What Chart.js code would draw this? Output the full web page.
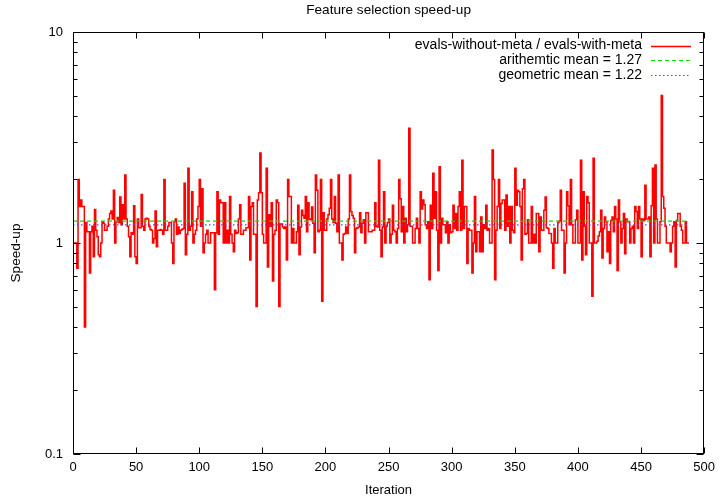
<!DOCTYPE html>
<html>
<head>
<meta charset="utf-8">
<script src="https://cdn.jsdelivr.net/npm/chart.js@4.4.0/dist/chart.umd.min.js"></script>
<style>
html,body{margin:0;padding:0;background:#fff;}
#wrap{width:721px;height:498px;}
</style>
</head>
<body>
<div id="wrap"><canvas id="c" width="721" height="498"></canvas></div>
<script>
const chartTitle = 'Feature selection speed-up';
const xAxisTitle = 'Iteration';
const yAxisTitle = 'Speed-up';
const seriesLabel = 'evals-without-meta / evals-with-meta';
const arithmeticMean = 1.27;
const geometricMean = 1.22;
const arithmeticLabel = 'arithemtic mean = 1.27';
const geometricLabel = 'geometric mean = 1.22';
const xTickValues = [0, 50, 100, 150, 200, 250, 300, 350, 400, 450, 500];
const yMajorTicks = [0.1, 1, 10];
const yMinorTicks = [0.2, 0.3, 0.4, 0.5, 0.6, 0.7, 0.8, 0.9, 2, 3, 4, 5, 6, 7, 8, 9];
const firstIteration = 0;
const speedup = [
1.0,1.0,1.0,1.0,0.76,2.0,1.49,1.6,1.49,1.49,
0.40,1.25,1.13,1.13,0.72,1.13,1.2,0.86,1.44,1.15,
1.07,0.88,0.86,1.0,1.26,1.24,1.15,1.15,1.2,1.3,
1.38,1.42,1.30,1.78,1.0,1.26,1.32,1.25,1.65,1.22,
1.52,1.30,2.10,1.3,1.2,1.07,0.86,1.12,1.10,1.50,
0.86,0.80,1.30,1.18,1.18,1.7,1.2,1.15,1.3,1.31,
1.30,1.20,1.16,1.15,1.0,1.05,1.42,0.96,1.15,1.15,
1.16,1.15,1.1,2.0,1.15,1.15,1.2,1.25,1.25,1.0,
0.80,1.26,1.3,1.1,1.19,1.11,1.15,1.16,1.17,1.92,
0.88,1.1,2.26,1.15,1.2,1.75,1.0,1.1,1.15,1.3,
1.49,2.0,1.2,1.81,0.9,1.0,1.1,1.15,1.0,1.0,
1.12,1.12,1.12,0.60,1.12,1.75,1.1,1.6,1.55,1.55,
1.0,1.55,1.0,1.15,1.0,1.66,1.1,1.0,0.91,1.15,
1.11,1.12,1.3,1.52,1.1,1.1,1.15,1.15,1.18,1.18,
1.66,0.83,1.49,1.55,1.1,1.1,0.50,1.6,1.73,2.67,
1.73,1.1,1.0,1.0,2.26,0.77,1.36,1.2,1.55,0.66,
1.1,1.15,1.6,1.55,0.50,1.23,1.23,1.19,1.17,1.19,
0.83,2.0,1.66,1.66,1.0,1.17,1.0,1.0,1.13,1.51,
0.88,1.19,1.43,1.35,1.31,1.66,1.13,1.55,1.3,1.29,
1.48,1.24,0.9,2.1,1.78,1.13,1.15,2.0,0.53,1.39,
1.15,1.15,1.3,1.36,1.46,2.0,1.3,1.25,1.66,1.24,
1.13,2.1,1.0,1.0,0.83,1.1,1.11,1.19,1.11,1.3,
2.1,1.41,1.35,1.31,0.9,1.17,1.18,1.19,1.39,1.12,
1.24,1.29,1.0,1.39,1.39,1.13,1.13,1.13,1.15,1.15,
1.55,1.2,1.19,2.47,1.15,0.86,1.19,1.75,1.0,1.2,
1.25,1.3,1.0,1.1,1.51,1.15,1.13,1.0,1.17,2.0,
1.62,1.13,1.49,1.0,1.31,1.13,1.22,3.5,1.2,1.2,
1.0,1.0,1.17,1.31,1.17,1.0,1.75,1.45,1.6,1.52,
1.22,1.17,1.26,0.67,1.51,1.17,2.14,1.31,1.75,1.15,
0.74,2.3,1.0,1.31,1.22,1.22,1.12,1.26,1.0,1.22,
1.12,1.13,1.51,1.17,1.38,1.15,1.49,1.75,1.15,2.47,
1.17,1.49,1.49,0.80,1.17,1.15,1.15,0.72,1.0,1.66,
0.91,1.13,1.13,0.91,1.33,0.91,1.22,1.17,1.51,1.15,
1.17,1.0,1.0,2.76,2.0,0.67,1.15,1.49,2.0,1.17,
1.54,1.6,1.6,1.15,1.69,1.2,1.49,1.0,1.49,1.15,
1.12,2.26,1.51,1.78,1.75,1.49,0.83,1.81,2.0,1.1,
1.11,1.29,1.0,1.0,1.49,1.0,1.1,1.0,1.38,1.38,
0.91,1.33,1.15,1.15,1.43,1.65,1.18,1.17,1.11,1.11,
1.0,0.76,1.17,1.0,1.0,1.25,1.27,1.78,1.15,1.15,
0.72,1.0,1.75,1.5,1.22,2.0,1.22,1.0,1.0,1.29,
1.43,1.0,1.0,2.47,0.83,1.75,1.2,0.88,1.66,1.55,
1.0,1.0,0.56,2.52,1.0,1.0,1.02,1.08,1.13,1.43,
0.85,1.17,1.33,1.26,0.91,1.13,0.80,1.28,1.33,1.13,
1.49,1.3,0.74,1.6,1.26,1.0,1.17,1.38,0.89,1.3,
1.26,1.26,1.0,1.17,1.2,1.0,1.49,1.41,1.17,1.49,
1.3,0.86,1.3,1.28,1.88,1.3,1.3,1.33,0.86,1.5,
2.26,1.0,2.34,1.3,1.0,1.0,1.26,5.0,1.66,1.46,
1.2,1.0,1.0,1.0,0.91,1.0,1.2,1.26,0.77,1.28,
1.38,1.38,1.2,1.15,1.0,1.0,1.26,1.0,1.0
];

const FONT = '"Liberation Sans", Arial, Helvetica, sans-serif';
const lastIteration = firstIteration + speedup.length - 1;
const seriesPoints = speedup.map((v, i) => ({x: firstIteration + i, y: v}));

const gnuplotFrame = {
  id: 'gnuplotFrame',
  afterDatasetsDraw(chart) {
    const {ctx, chartArea: a, scales} = chart;
    const xs = scales.x, ys = scales.y;
    ctx.save();
    ctx.strokeStyle = '#000';
    ctx.lineWidth = 1;
    const L = Math.round(a.left) + 0.5, R = Math.round(a.right) - 0.5;
    const T = Math.round(a.top) + 0.5, B = Math.round(a.bottom) - 0.5;
    ctx.strokeRect(L, T, R - L, B - T);
    ctx.beginPath();
    xTickValues.forEach(v => {
      const px = Math.round(xs.getPixelForValue(v)) + 0.5;
      ctx.moveTo(px, B); ctx.lineTo(px, B - 6);
      ctx.moveTo(px, T); ctx.lineTo(px, T + 6);
    });
    yMajorTicks.forEach(v => {
      const py = Math.round(ys.getPixelForValue(v)) + 0.5;
      ctx.moveTo(L, py); ctx.lineTo(L + 7, py);
      ctx.moveTo(R, py); ctx.lineTo(R - 7, py);
    });
    yMinorTicks.forEach(v => {
      const py = Math.round(ys.getPixelForValue(v)) + 0.5;
      ctx.moveTo(L, py); ctx.lineTo(L + 4, py);
      ctx.moveTo(R, py); ctx.lineTo(R - 4, py);
    });
    ctx.stroke();

    // y-axis label (gnuplot places it slightly below the centre)
    ctx.save();
    ctx.fillStyle = '#000';
    ctx.font = '13.6px ' + FONT;
    ctx.textAlign = 'center';
    ctx.textBaseline = 'middle';
    ctx.translate(16, 253);
    ctx.rotate(-Math.PI / 2);
    ctx.fillText(yAxisTitle, 0, 0);
    ctx.restore();

    // legend (gnuplot style: text right-aligned, sample to the right)
    ctx.font = '14px ' + FONT;
    ctx.textAlign = 'right';
    ctx.textBaseline = 'middle';
    const textRight = 642, sx0 = 651, sx1 = 691;
    chart.data.datasets.forEach((ds, i) => {
      const y = 45.5 + i * 14.7;
      ctx.fillStyle = '#000';
      ctx.fillText(ds.label, textRight, y);
      ctx.save();
      ctx.strokeStyle = ds.borderColor;
      ctx.lineWidth = ds.borderWidth || 1;
      ctx.setLineDash(ds.borderDash || []);
      ctx.beginPath();
      ctx.moveTo(sx0, Math.round(y) + 0.5);
      ctx.lineTo(sx1, Math.round(y) + 0.5);
      ctx.stroke();
      ctx.restore();
    });
    ctx.restore();
  }
};

new Chart(document.getElementById('c'), {
  type: 'line',
  data: {
    datasets: [
      {
        label: seriesLabel,
        data: seriesPoints,
        borderColor: '#ff0000',
        borderWidth: 1.5,
        stepped: 'after',
        pointRadius: 0,
        fill: false,
        order: 3
      },
      {
        label: arithmeticLabel,
        data: [{x: firstIteration, y: arithmeticMean}, {x: lastIteration, y: arithmeticMean}],
        borderColor: '#00e000',
        borderWidth: 1.2,
        borderDash: [4, 3],
        pointRadius: 0,
        fill: false,
        order: 2
      },
      {
        label: geometricLabel,
        data: [{x: firstIteration, y: geometricMean}, {x: lastIteration, y: geometricMean}],
        borderColor: '#4848ff',
        borderWidth: 1.2,
        borderDash: [1.5, 2.5],
        pointRadius: 0,
        fill: false,
        order: 1
      }
    ]
  },
  options: {
    responsive: false,
    animation: false,
    devicePixelRatio: 1,
    layout: {padding: {left: 0, right: 13, top: 0, bottom: 0}},
    plugins: {
      legend: {display: false},
      tooltip: {enabled: false},
      title: {
        display: true,
        text: chartTitle,
        fullSize: false,
        color: '#000',
        font: {family: FONT, size: 13.6, weight: 'normal'},
        padding: {top: 2, bottom: 13.7}
      }
    },
    scales: {
      x: {
        type: 'linear',
        min: 0,
        max: 500,
        afterBuildTicks(scale) { scale.ticks = xTickValues.map(v => ({value: v})); },
        afterFit(scale) { scale.height = 44; },
        grid: {display: false, drawTicks: false},
        border: {display: false},
        ticks: {color: '#000', font: {family: FONT, size: 13}, padding: 6, maxRotation: 0, autoSkip: false},
        title: {display: true, text: xAxisTitle, color: '#000', font: {family: FONT, size: 13}, padding: {top: 0, bottom: 0}}
      },
      y: {
        type: 'logarithmic',
        min: 0.1,
        max: 10,
        afterBuildTicks(scale) { scale.ticks = yMajorTicks.map(v => ({value: v})); },
        afterFit(scale) { scale.width = 73; },
        grid: {display: false, drawTicks: false},
        border: {display: false},
        ticks: {color: '#000', font: {family: FONT, size: 13}, padding: 10, callback: v => String(v)},
        title: {display: false, text: yAxisTitle}
      }
    }
  },
  plugins: [gnuplotFrame]
});
</script>
</body>
</html>
